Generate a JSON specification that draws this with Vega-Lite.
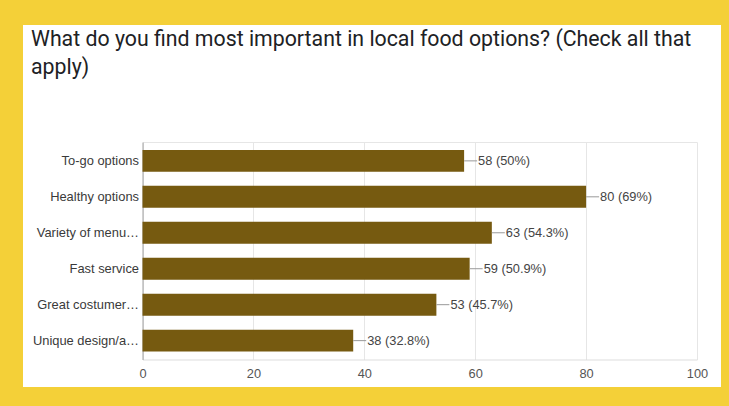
{
  "$schema": "https://vega.github.io/schema/vega-lite/v6.json",
  "width": 698,
  "height": 362,
  "autosize": {"type": "none"},
  "padding": {"left": 23, "top": 25, "right": 8, "bottom": 19},
  "background": "#F4D038",
  "config": {
    "view": {"fill": "#ffffff", "stroke": null},
    "font": "Liberation Sans"
  },
  "title": {
    "text": ["What do you find most important in local food options? (Check all that", "apply)"],
    "anchor": "start",
    "frame": "group",
    "orient": "top",
    "font": "Roboto",
    "fontSize": 21.3,
    "fontWeight": "normal",
    "color": "#202124",
    "lineHeight": 28,
    "baseline": "top",
    "offset": 0,
    "dx": 8,
    "dy": 53
  },
  "data": {
    "values": [
      {"option": "To-go options", "count": 58, "label": "58 (50%)"},
      {"option": "Healthy options", "count": 80, "label": "80 (69%)"},
      {"option": "Variety of menu…", "count": 63, "label": "63 (54.3%)"},
      {"option": "Fast service", "count": 59, "label": "59 (50.9%)"},
      {"option": "Great costumer…", "count": 53, "label": "53 (45.7%)"},
      {"option": "Unique design/a…", "count": 38, "label": "38 (32.8%)"}
    ]
  },
  "encoding": {
    "y": {
      "field": "option",
      "type": "nominal",
      "sort": null,
      "scale": {"range": [117, 334.5], "paddingInner": 0.39, "paddingOuter": 0.22},
      "axis": {
        "title": null,
        "orient": "left",
        "offset": -119.5,
        "ticks": false,
        "labelPadding": 4,
        "labelFontSize": 12.9,
        "labelColor": "#3a3a3a",
        "labelLimit": 300,
        "domainColor": "#a0a0a0",
        "grid": false
      }
    }
  },
  "resolve": {"scale": {"x": "shared"}, "axis": {"x": "independent"}},
  "layer": [
    {
      "mark": {"type": "bar", "color": "#765A10"},
      "encoding": {
        "x": {
          "field": "count",
          "type": "quantitative",
          "scale": {"domain": [0, 100], "range": [119.5, 674], "nice": false},
          "axis": {
            "title": null,
            "orient": "bottom",
            "offset": -27.5,
            "values": [0, 20, 40, 60, 80, 100],
            "ticks": false,
            "labelPadding": 8,
            "labelFontSize": 12.8,
            "labelColor": "#555555",
            "domainColor": "#dddddd",
            "grid": false,
            "labelFlush": false
          }
        }
      }
    },
    {
      "mark": {"type": "rule", "color": "#999999", "strokeWidth": 1, "x2Offset": 13},
      "encoding": {
        "x": {
          "field": "count",
          "type": "quantitative",
          "axis": {
            "title": null,
            "orient": "top",
            "offset": -117,
            "values": [0, 20, 40, 60, 80, 100],
            "labels": false,
            "ticks": false,
            "grid": true,
            "gridColor": "#e6e6e6",
            "domainColor": "#e6e6e6"
          }
        },
        "x2": {"field": "count"}
      }
    },
    {
      "mark": {"type": "text", "align": "left", "baseline": "middle", "dx": 14, "fontSize": 12.8, "color": "#444444"},
      "encoding": {
        "x": {"field": "count", "type": "quantitative", "axis": null},
        "text": {"field": "label"}
      }
    }
  ]
}
